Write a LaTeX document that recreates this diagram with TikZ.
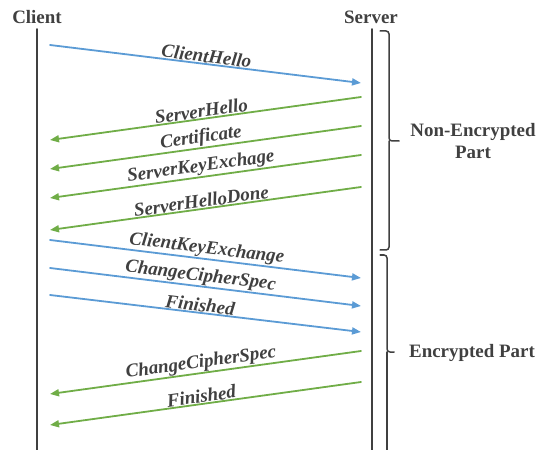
\documentclass[tikz,border=0pt]{standalone}
\usepackage{fontspec}
\setmainfont{Liberation Serif}
\usetikzlibrary{arrows.meta}
\definecolor{gristxt}{HTML}{404040}
\definecolor{azul}{HTML}{5B9BD5}
\definecolor{verde}{HTML}{70AD47}
\begin{document}
\begin{tikzpicture}[x=1bp,y=-1bp,
    >={Triangle[length=9bp,width=7bp]},line cap=round,
    head/.style={gristxt,font=\fontsize{19}{21}\selectfont\bfseries,inner sep=0pt},
    life/.style={gristxt,line width=1.8bp},
    cmsg/.style={->,azul,line width=1.8bp},
    smsg/.style={->,verde,line width=1.8bp},
    msglab/.style={gristxt,font=\fontsize{19}{21}\selectfont\bfseries\itshape,
                   sloped,above,inner sep=0.5bp},
    part/.style={gristxt,line width=1.5bp,rounded corners=3bp},
    partlab/.style={gristxt,font=\fontsize{19}{23}\selectfont\bfseries,align=center}]
  \useasboundingbox (0,0) rectangle (546,450);
  % --- cabeceras y lineas de vida
  \node[head] (client) at (37,17) {Client};
  \node[head] (server) at (371,17) {Server};
  \coordinate (cbot) at (37,455);
  \coordinate (sbot) at (372,455);
  \draw[life] (37,29) -- (cbot);
  \draw[life] (372,29) -- (sbot);
  % --- handshake, parte sin cifrar
  \coordinate (c1) at (50,45);   \coordinate (s1) at (361,83);
  \coordinate (s2) at (361,97);  \coordinate (c2) at (50,140);
  \coordinate (s3) at (361,126); \coordinate (c3) at (50,169);
  \coordinate (s4) at (361,155); \coordinate (c4) at (50,198);
  \coordinate (s5) at (361,187); \coordinate (c5) at (50,230);
  \draw[cmsg] (c1) -- (s1) node[msglab,midway] {ClientHello};
  \draw[smsg] (s2) -- (c2) node[msglab,pos=0.51] {ServerHello};
  \draw[smsg] (s3) -- (c3) node[msglab,pos=0.51] {Certificate};
  \draw[smsg] (s4) -- (c4) node[msglab,pos=0.51] {ServerKeyExchage};
  \draw[smsg] (s5) -- (c5) node[msglab,pos=0.51] {ServerHelloDone};
  % --- parte cifrada
  \coordinate (c6) at (50,240);  \coordinate (s6) at (361,278);
  \coordinate (c7) at (50,268);  \coordinate (s7) at (361,306);
  \coordinate (c8) at (50,295);  \coordinate (s8) at (361,332);
  \coordinate (s9) at (361,351); \coordinate (c9) at (50,394);
  \coordinate (s10) at (361,382); \coordinate (c10) at (50,425);
  \draw[cmsg] (c6) -- (s6) node[msglab,midway] {ClientKeyExchange};
  \draw[cmsg] (c7) -- (s7) node[msglab,pos=0.48] {ChangeCipherSpec};
  \draw[cmsg] (c8) -- (s8) node[msglab,pos=0.48] {Finished};
  \draw[smsg] (s9) -- (c9) node[msglab,pos=0.51] {ChangeCipherSpec};
  \draw[smsg] (s10) -- (c10) node[msglab,pos=0.51] {Finished};
  % --- llaves a la derecha
  \draw[part] (380,31) -| (389,141) -- (399,141);
  \draw[part] (380,250) -| (389,141);
  \node[partlab] (noenc) at (473,141) {Non-Encrypted\\Part};
  \draw[part] (380,255) -| (387,352) -- (394,352);
  \draw[part] (387,352) -- (387,460);
  \node[partlab] (enc) at (472,353) {Encrypted Part};
\end{tikzpicture}
\end{document}
